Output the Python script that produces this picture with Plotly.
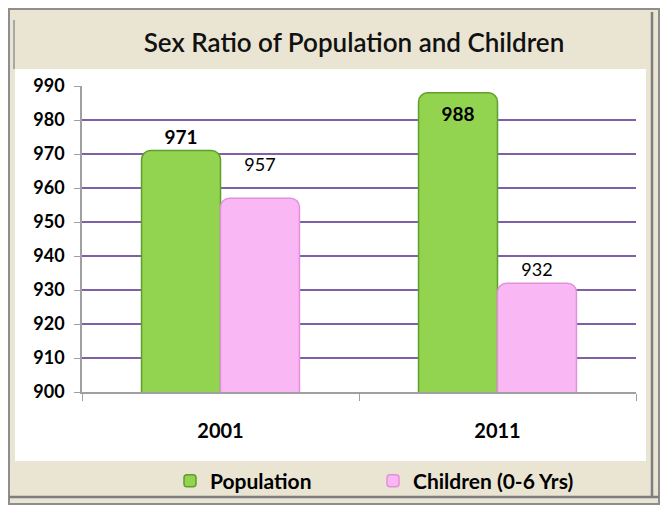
import plotly.graph_objects as go

years = ["2001", "2011"]
population = [971, 988]
children = [957, 932]
y_ticks = [900, 910, 920, 930, 940, 950, 960, 970, 980, 990]

# page offset: browser body has an 8px margin
OFF = 8
W, H = 669 - OFF, 514 - OFF
# plot area in page coordinates: x 82..636, y 86..392
ML, MR, MT, MB = 82 - OFF, 669 - 636, 86 - OFF, 514 - 392
PW, PH = W - ML - MR, H - MT - MB


def px(x):
    return (x - OFF - ML) / PW


def py(y):
    return (H - MB - (y - OFF)) / PH


font = "Lato, Open Sans, sans-serif"

fig = go.Figure()
fig.add_trace(go.Bar(
    name="Population", x=years, y=population,
    marker=dict(color="#92D450", line=dict(color="#5E9E2A", width=1.5)),
    text=population, texttemplate="%{y}",
    textposition=["outside", "inside"], insidetextanchor="end",
    textfont=dict(size=19, color="black", family=font, weight="bold"), cliponaxis=False,
))
fig.add_trace(go.Bar(
    name="Children (0-6 Yrs)", x=years, y=children,
    marker=dict(color="#F9B8F4", line=dict(color="#E48FDD", width=1.5)),
    text=children,
    texttemplate=["%{y}<br><span style='font-size:7px'> </span>", "%{y}"],
    textposition="outside",
    textfont=dict(size=18, color="black", family=font), cliponaxis=False,
))

shapes = [
    # outer frame (beige)
    dict(type="rect", xref="paper", yref="paper", x0=px(9), x1=px(659), y0=py(9), y1=py(504),
         fillcolor="#EAE5D3", line=dict(color="#8E8E8E", width=2), layer="below"),
    # white chart body
    dict(type="rect", xref="paper", yref="paper", x0=px(15), x1=px(646), y0=py(69), y1=py(461),
         fillcolor="#FFFFFF", line=dict(width=0), layer="below"),
    # bevel lines
    dict(type="line", xref="paper", yref="paper", x0=px(9), x1=px(659), y0=py(497), y1=py(497),
         line=dict(color="#7E7E7E", width=2.5), layer="below"),
    dict(type="line", xref="paper", yref="paper", x0=px(652), x1=px(652), y0=py(12), y1=py(497),
         line=dict(color="#7E7E7E", width=2.5), layer="below"),
    dict(type="line", xref="paper", yref="paper", x0=px(14), x1=px(14), y0=py(20), y1=py(69),
         line=dict(color="#A8A8A8", width=2), layer="below"),
]

fig.update_layout(
    width=W, height=H,
    margin=dict(l=ML, r=MR, t=MT, b=MB),
    paper_bgcolor="white", plot_bgcolor="white",
    barmode="group", bargap=0.43, bargroupgap=0,
    barcornerradius=9,
    shapes=shapes,
    title=dict(text="Sex Ratio of Population and Children", xref="container",
               x=(354 - OFF) / W, xanchor="center",
               y=1 - (43 - OFF) / H, yanchor="middle",
               font=dict(size=26, color="#111111", family=font, weight=600)),
    xaxis=dict(showgrid=False, showline=True, linecolor="#A0A0A0", linewidth=1.5,
               ticks="outside", tickson="boundaries", ticklen=7, tickcolor="#A0A0A0",
               tickfont=dict(size=20, color="black", family=font, weight="bold"),
               ticklabelstandoff=20),
    yaxis=dict(range=[900, 990], tickvals=y_ticks, showgrid=True, gridcolor="#7E5FA8",
               gridwidth=2, showline=True, linecolor="#A0A0A0", linewidth=1.5,
               ticks="outside", ticklen=6, tickcolor="#A0A0A0", zeroline=False,
               ticklabelstandoff=6,
               tickfont=dict(size=18, color="black", family=font, weight="bold")),
    legend=dict(orientation="h", x=px(170), xanchor="left", y=py(481), yanchor="middle",
                font=dict(size=21, color="black", family=font, weight="bold"),
                bgcolor="rgba(0,0,0,0)",
                itemwidth=30, entrywidth=158, traceorder="normal"),
    font=dict(family=font),
)

fig.write_html("out.html")
